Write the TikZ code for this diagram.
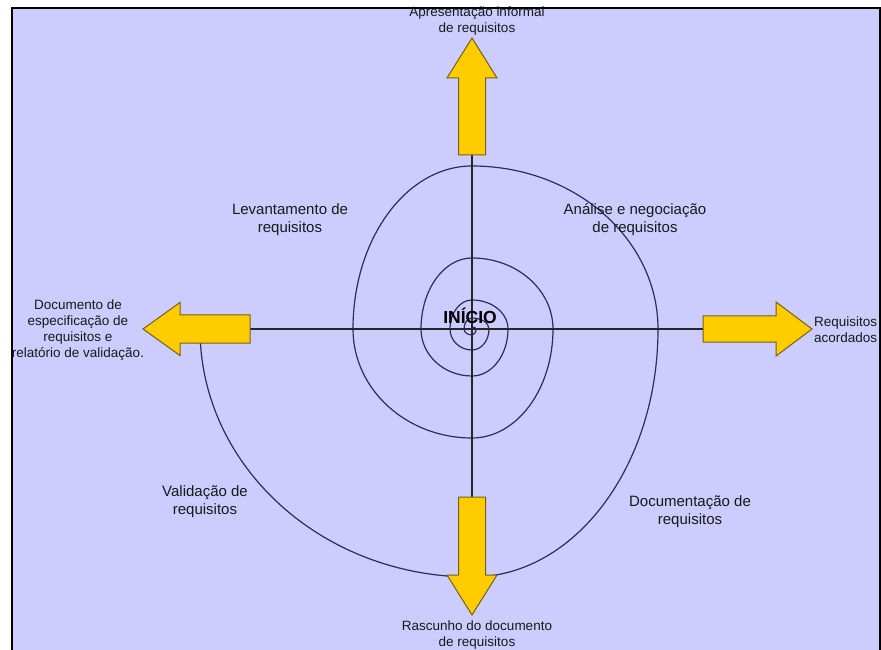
\documentclass[tikz,border=0pt]{standalone}
\usepackage{fontspec}
\setmainfont{Liberation Sans}
\usetikzlibrary{calc,positioning}

\definecolor{lilas}{RGB}{204,204,255}
\definecolor{amarelo}{RGB}{255,204,0}
\definecolor{bordaseta}{RGB}{120,95,20}
\definecolor{espiral}{RGB}{45,45,85}

\tikzset{
  seta/.style={fill=amarelo, draw=bordaseta, line width=1pt, line join=miter},
  eixo/.style={draw=black!85, line width=1.1pt},
  rotulo/.style={align=center, inner sep=0pt, text=black!90, font=\fontsize{15}{18}\selectfont},
  saida/.style={align=center, inner sep=0pt, text=black!90, font=\fontsize{13.5}{16}\selectfont},
}

\begin{document}
\begin{tikzpicture}[x=1pt,y=1pt]
  \useasboundingbox (0,0) rectangle (881,649);
  \clip (0,0) rectangle (881,649);
  \fill[white] (0,0) rectangle (881,649);
  \fill[lilas] (12,-5) rectangle (880,641);

  \coordinate (O) at (472,320);
  % espiral, um quarto de elipse por vez
  \draw[espiral, line width=1.2pt] ($(O)+(0,2)$)
    \foreach \a/\rx/\ry in {90/4/2, 0/4/6, -90/8/6, 180/8/11, 90/17/11, 0/17/21,
      -90/22/21, 180/22/29, 90/36/29, 0/36/47, -90/51/47, 180/51/71, 90/81/71,
      0/81/109, -90/119/109, 180/119/163, 90/186/163, 0/186/248, -90/272/248}
    { arc[start angle=\a, delta angle=-90, x radius=\rx, y radius=\ry] };

  \coordinate (cima) at (472,494);
  \coordinate (baixo) at (472,152);
  \coordinate (esq) at (250,320);
  \coordinate (dir) at (703,320);
  \draw[eixo] (cima) -- (baixo);
  \draw[eixo] (esq) -- (dir);

  % setas
  \draw[seta, shift={(cima)}, rotate=90] (0,-13.5) -- (77,-13.5) -- (77,-25) -- (117,0) -- (77,25) -- (77,13.5) -- (0,13.5) -- cycle;
  \draw[seta, shift={(baixo)}, rotate=-90] (0,-13.5) -- (78,-13.5) -- (78,-25) -- (118,0) -- (78,25) -- (78,13.5) -- (0,13.5) -- cycle;
  \draw[seta, shift={(esq)}, rotate=180] (0,-14) -- (70,-14) -- (70,-26.5) -- (107,0) -- (70,26.5) -- (70,14) -- (0,14) -- cycle;
  \draw[seta, shift={(dir)}] (0,-13) -- (73,-13) -- (73,-27) -- (109,0) -- (73,27) -- (73,13) -- (0,13) -- cycle;

  \node[font=\bfseries\fontsize{17.5}{20}\selectfont, inner sep=0pt] (inicio) at (470,333) {INÍCIO};

  \node[rotulo] (levantamento) at (290,429) {Levantamento de\\requisitos};
  \node[rotulo] (analise) at (635,429) {Análise e negociação\\de requisitos};
  \node[rotulo] (documentacao) at (690,137) {Documentação de\\requisitos};
  \node[rotulo] (validacao) at (205,147) {Validação de\\requisitos};

  \node[saida] (apresentacao) at (477,628) {Apresentação informal\\de requisitos};
  \node[saida, anchor=west] (acordados) at (814,319) {Requisitos\\acordados};
  \node[saida] (rascunho) at (477,13.5) {Rascunho do documento\\de requisitos};
  \node[saida] (especificacao) at (78,319) {Documento de\\especificação de\\requisitos e\\relatório de validação.};

  % moldura
  \draw[line width=2.5pt] (12,-5) -- (12,641) -- (880,641) -- (880,-5);
\end{tikzpicture}
\end{document}
